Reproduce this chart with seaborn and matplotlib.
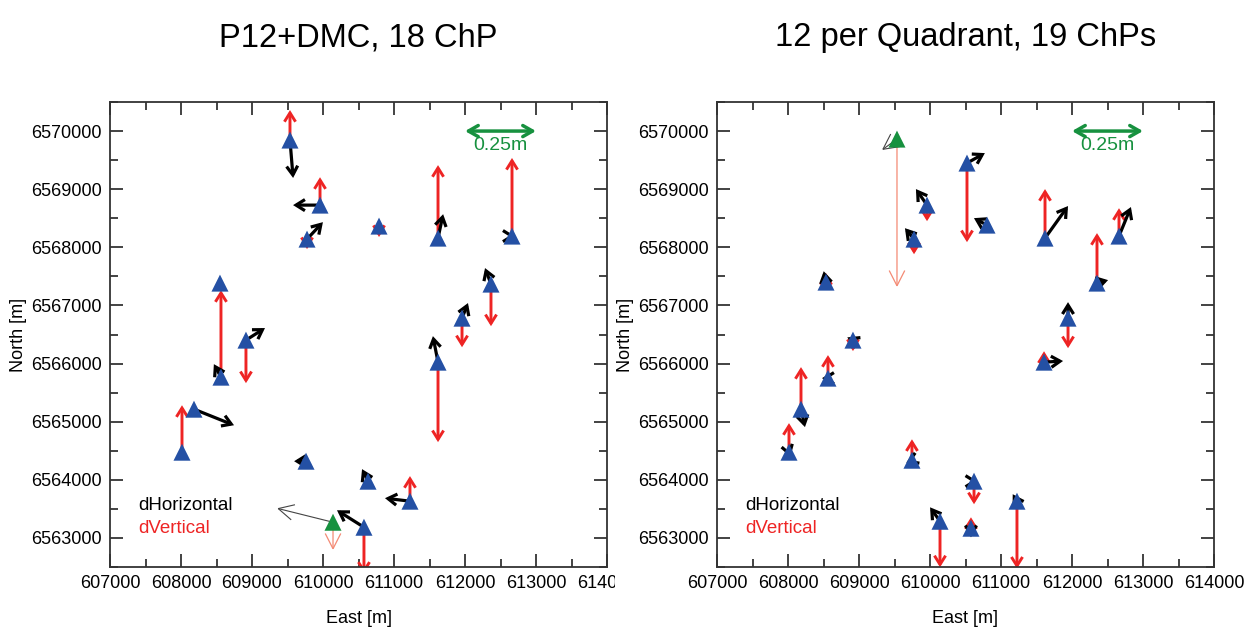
import matplotlib
matplotlib.use('Agg')
import matplotlib.pyplot as plt
import seaborn as sns
import pandas as pd
from matplotlib.patches import FancyArrowPatch
from matplotlib.transforms import Bbox, TransformedBbox

# arrow length in map metres per metre of displacement (0.25 m bar = 1000 m)
SCALE = 4000.0

# --- P12+DMC, 18 ChP ---
east_p12 = [609535, 609958, 609775, 608549, 608563, 608915, 608183, 608014, 610789,
            611620, 612662, 612366, 611958, 611620, 609761, 610634, 611225, 610577]
north_p12 = [6569845, 6568726, 6568141, 6567384, 6565766, 6566403, 6565215, 6564475, 6568365,
             6568158, 6568193, 6567367, 6566781, 6566024, 6564320, 6563976, 6563632, 6563184]
de_p12 = [0.011, -0.095, 0.056, 0.0, -0.025, 0.067, 0.141, 0.0, 0.0,
          0.018, 0.010, -0.021, 0.021, -0.018, -0.042, -0.021, -0.088, -0.095]
dn_p12 = [-0.163, 0.0, 0.073, 0.0, 0.056, 0.052, -0.069, 0.0, 0.0,
          0.103, 0.0, 0.069, 0.065, 0.112, 0.0, 0.052, 0.013, 0.073]
du_p12 = [0.129, 0.120, -0.043, 0.0, 0.374, -0.185, 0.0, 0.202, -0.047,
          0.314, 0.336, -0.181, -0.125, -0.344, 0.02, 0.02, 0.108, -0.2]
ref_p12 = dict(east=610141, north=6563270, de=-0.197, dn=0.060, du=-0.12)

# --- 12 per Quadrant, 19 ChPs ---
east_q12 = [610521, 609958, 609775, 608535, 610803, 611620, 612662, 612352, 611944, 611606,
            608915, 608563, 608183, 608014, 609746, 610141, 610620, 610577, 611225]
north_q12 = [6569449, 6568726, 6568141, 6567401, 6568382, 6568158, 6568193, 6567384, 6566781, 6566024,
             6566403, 6565749, 6565215, 6564475, 6564337, 6563287, 6563976, 6563167, 6563632]
de_q12 = [0.063, -0.039, -0.032, -0.008, -0.046, 0.081, 0.042, 0.039, 0.0, 0.067,
          -0.02, -0.021, 0.014, 0.005, -0.02, -0.035, 0.012, 0.0, -0.015]
dn_q12 = [0.043, 0.069, 0.047, 0.047, 0.030, 0.138, 0.125, 0.013, 0.069, 0.005,
          0.012, 0.0, -0.077, -0.02, -0.01, 0.060, 0.0, -0.039, 0.030]
du_q12 = [-0.340, -0.069, -0.065, 0.039, 0.0, 0.211, 0.120, 0.215, -0.129, 0.047,
          -0.047, 0.099, 0.181, 0.125, 0.090, -0.198, -0.099, 0.047, -0.29]
ref_q12 = dict(east=609535, north=6569862, de=-0.053, dn=-0.047, du=-0.637)

x_ticks = list(range(607000, 614001, 1000))
y_ticks = list(range(6563000, 6570001, 1000))
scale_bar_m = 0.25

BLUE = '#2450a4'
GREEN = '#17913f'
RED = '#ee2424'
SALMON = '#f48a74'

sns.set_theme(style="ticks")
plt.rcParams['font.family'] = ['Liberation Sans', 'DejaVu Sans']
plt.rcParams['text.color'] = 'black'
plt.rcParams['axes.labelcolor'] = 'black'
plt.rcParams['xtick.color'] = 'black'
plt.rcParams['ytick.color'] = 'black'


def add_arrow(ax, x, y, dx, dy, color, lw, style):
    if abs(dx) < 0.004 and abs(dy) < 0.004:
        return
    p = FancyArrowPatch((x, y), (x + dx * SCALE, y + dy * SCALE), arrowstyle=style,
                        mutation_scale=20, color=color, lw=lw, shrinkA=0, shrinkB=0,
                        zorder=2, joinstyle='miter', capstyle='butt')
    ax.add_patch(p)


def draw_panel(ax, title, east, north, de, dn, du, ref):
    thick = '->,head_length=0.32,head_width=0.2'
    for x, y, a, b, u in zip(east, north, de, dn, du):
        add_arrow(ax, x, y, 0, u, RED, 2.1, thick)
        add_arrow(ax, x, y, a, b, 'black', 2.3, thick)

    thin = '->,head_length=0.55,head_width=0.28'
    add_arrow(ax, ref['east'], ref['north'], 0, ref['du'], SALMON, 0.9, thin)
    add_arrow(ax, ref['east'], ref['north'], ref['de'], ref['dn'], '#444444', 0.8, thin)

    df = pd.DataFrame({'east': east, 'north': north})
    sns.scatterplot(data=df, x='east', y='north', marker='^', s=150, color=BLUE,
                    edgecolor='none', ax=ax, zorder=3, clip_on=False)
    ax.scatter([ref['east']], [ref['north']], marker='^', s=150, color=GREEN,
               edgecolor='none', zorder=3)

    # scale bar
    bar = FancyArrowPatch((612000, 6570000), (612000 + scale_bar_m * SCALE, 6570000),
                          arrowstyle='<->,head_length=0.35,head_width=0.2', mutation_scale=20,
                          color=GREEN, lw=2.5, shrinkA=0, shrinkB=0)
    ax.add_patch(bar)
    ax.text(612500, 6569760, f"{scale_bar_m}m", color=GREEN, ha='center', va='center', fontsize=14)

    ax.text(0.056, 0.133, "dHorizontal", color='black', transform=ax.transAxes,
            fontsize=13.5, va='center')
    ax.text(0.056, 0.082, "dVertical", color=RED, transform=ax.transAxes,
            fontsize=13.5, va='center')

    ax.set_xlim(607000, 614000)
    ax.set_ylim(6562500, 6570500)
    ax.set_xticks(x_ticks)
    ax.set_yticks(y_ticks)
    ax.set_xticks([v + 500 for v in x_ticks[:-1]], minor=True)
    ax.set_yticks([6562500] + [v + 500 for v in y_ticks], minor=True)
    ax.set_xticklabels([str(v) for v in x_ticks])
    ax.set_yticklabels([str(v) for v in y_ticks])
    ax.tick_params(which='both', direction='in', top=True, right=True, labelsize=13,
                   color='#222222', width=1.2)
    ax.tick_params(which='major', length=9.5, pad=6)
    ax.tick_params(which='minor', length=5.5)
    for s in ax.spines.values():
        s.set_color('#333333')
        s.set_linewidth(1.3)
    ax.set_xlabel("East [m]", fontsize=13, labelpad=13)
    ax.set_ylabel("North [m]", fontsize=13, labelpad=3)
    ax.set_title(title, fontsize=23.5, pad=40)


fig = plt.figure(figsize=(12.55, 6.41), dpi=100)
ax1 = fig.add_axes([110 / 1255, 1 - 567 / 641, 497 / 1255, 465 / 641])
ax2 = fig.add_axes([717 / 1255, 1 - 567 / 641, 497 / 1255, 465 / 641])

draw_panel(ax1, "P12+DMC, 18 ChP", east_p12, north_p12, de_p12, dn_p12, du_p12, ref_p12)
draw_panel(ax2, "12 per Quadrant, 19 ChPs", east_q12, north_q12, de_q12, dn_q12, du_q12, ref_q12)

# the left panel's last x label is cut off by the right panel, as in the source
clip = TransformedBbox(Bbox([[0, 0], [615 / 1255, 1]]), fig.transFigure)
last = ax1.get_xticklabels()[-1]
last.set_clip_box(clip)
last.set_clip_on(True)

fig.savefig("out.png", dpi=100)
